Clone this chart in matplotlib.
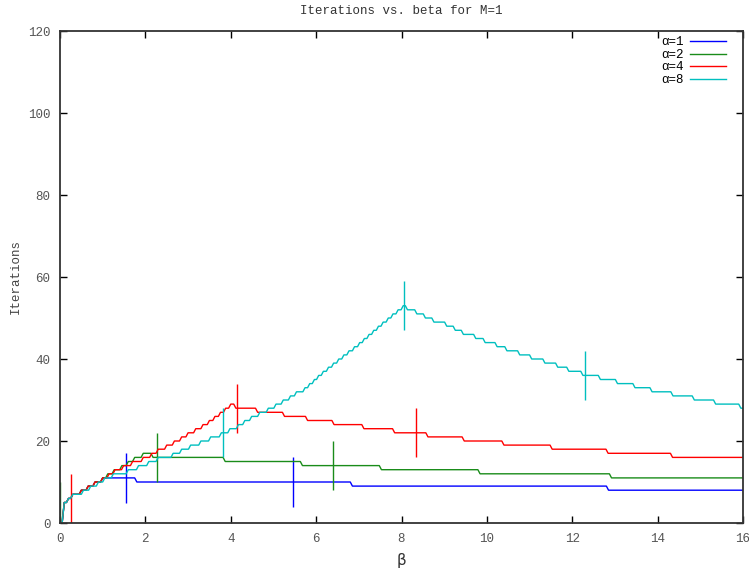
import matplotlib.pyplot as plt

# beta where each iteration level starts, and the level
beta_a1 = [0, 0.1, 0.2, 0.3, 0.5, 0.66, 0.82, 1.0, 1.8, 6.85, 12.85, 16]
iter_a1 = [0, 5, 6, 7, 8, 9, 10, 11, 10, 9, 8, 8]

beta_a2 = [0, 0.1, 0.2, 0.3, 0.5, 0.66, 0.82, 1.0, 1.12, 1.27, 1.45, 1.6,
           1.75, 1.95, 2.18, 3.87, 5.68, 7.53, 9.84, 12.92, 16]
iter_a2 = [0, 5, 6, 7, 8, 9, 10, 11, 12, 13, 14, 15,
           16, 17, 16, 15, 14, 13, 12, 11, 11]

beta_a4 = [0, 0.1, 0.2, 0.3, 0.5, 0.66, 0.82, 1.0, 1.15, 1.29, 1.49, 1.7,
           1.95, 2.15, 2.3, 2.5, 2.68, 2.85, 3.0, 3.18, 3.35, 3.5, 3.63,
           3.76, 3.88, 4.0, 4.12, 4.63, 5.26, 5.8, 6.42, 7.12, 7.84, 8.62,
           9.47, 10.4, 11.53, 12.84, 14.35, 16]
iter_a4 = [0, 5, 6, 7, 8, 9, 10, 11, 12, 13, 14, 15,
           16, 17, 18, 19, 20, 21, 22, 23, 24, 25, 26,
           27, 28, 29, 28, 27, 26, 25, 24, 23, 22, 21,
           20, 19, 18, 17, 16, 16]

beta_a8 = [0, 0.1, 0.2, 0.3, 0.55, 0.72, 0.9, 1.05, 1.25, 1.6, 1.84, 2.08,
           2.3, 2.65, 2.85, 3.06, 3.3, 3.53, 3.78, 3.98, 4.18, 4.33, 4.49,
           4.68, 4.88, 5.06, 5.23, 5.4, 5.54, 5.74, 5.85, 5.96, 6.06, 6.17,
           6.29, 6.41, 6.53, 6.65, 6.77, 6.9, 7.02, 7.13, 7.24, 7.35, 7.46,
           7.57, 7.69, 7.8, 7.92, 8.04, 8.14, 8.36, 8.56, 8.76, 9.06, 9.26,
           9.45, 9.74, 9.96, 10.24, 10.47, 10.77, 11.05, 11.36, 11.66, 11.92,
           12.25, 12.66, 13.06, 13.47, 13.87, 14.36, 14.86, 15.36, 15.95, 16]
iter_a8 = [0, 5, 6, 7, 8, 9, 10, 11, 12, 13, 14, 15,
           16, 17, 18, 19, 20, 21, 22, 23, 24, 25, 26,
           27, 28, 29, 30, 31, 32, 33, 34, 35, 36, 37,
           38, 39, 40, 41, 42, 43, 44, 45, 46, 47, 48,
           49, 50, 51, 52, 53, 52, 51, 50, 49, 48, 47,
           46, 45, 44, 43, 42, 41, 40, 39, 38, 37,
           36, 35, 34, 33, 32, 31, 30, 29, 28, 28]

# error bars (position, centre), half-width err_size
err_a1_x = [1.55, 5.45]
err_a1_y = [11, 10]
err_a2_x = [0.0, 2.27, 6.4]
err_a2_y = [4, 16, 14]
err_a4_x = [0.25, 4.15, 8.34]
err_a4_y = [6, 28, 22]
err_a8_x = [3.83, 8.05, 12.31]
err_a8_y = [22, 53, 36]
err_size = 6

labels = ['α=1', 'α=2', 'α=4', 'α=8']
colors = ['#0000ff', '#1a8c1a', '#ff0000', '#00bfbf']

mono = 'Liberation Mono'


def slanted_steps(xs, ys, ramp=0.05):
    # each level change drawn as a short ramp, like the sampled original
    px, py = [xs[0]], [ys[0]]
    for i in range(1, len(xs)):
        if ys[i] != ys[i - 1]:
            x0 = max(xs[i] - ramp, px[-1])
            px += [x0, xs[i]]
            py += [ys[i - 1], ys[i]]
        else:
            px.append(xs[i])
            py.append(ys[i])
    return px, py


fig = plt.figure(figsize=(7.49, 5.71), dpi=100)
ax = fig.add_axes([60 / 749, 1 - 523 / 571, 683 / 749, 492 / 571])

curves = [(beta_a1, iter_a1, err_a1_x, err_a1_y),
          (beta_a2, iter_a2, err_a2_x, err_a2_y),
          (beta_a4, iter_a4, err_a4_x, err_a4_y),
          (beta_a8, iter_a8, err_a8_x, err_a8_y)]

for (bx, it, ex, ey), lab, c in zip(curves, labels, colors):
    sx, sy = slanted_steps(bx, it)
    ax.plot(sx, sy, color=c, lw=1.0, label=lab)
    ax.errorbar(ex, ey, yerr=err_size, fmt='none', ecolor=c,
                elinewidth=1.0, capsize=0)

ax.set_xlim(0, 16)
ax.set_ylim(0, 120)
ax.set_xticks(range(0, 17, 2))
ax.set_yticks(range(0, 121, 20))
ax.tick_params(direction='in', length=5, width=1, top=True, right=True,
               labelsize=9, labelcolor='#555555', pad=7)
for lbl in ax.get_xticklabels() + ax.get_yticklabels():
    lbl.set_family(mono)
for s in ax.spines.values():
    s.set_linewidth(1.3)
    s.set_color('#333333')

ax.set_title('Iterations vs. beta for M=1', family=mono, fontsize=9,
             color='#333333', pad=12)
ax.set_ylabel('Iterations', family=mono, fontsize=9, color='#444444',
              labelpad=4)
ax.set_xlabel('β', fontsize=11, color='#333333', labelpad=6)

ax.legend(loc='upper right', frameon=False, markerfirst=False,
          prop={'family': mono, 'size': 9}, handlelength=2.9,
          labelspacing=0.05, handletextpad=0.5,
          bbox_to_anchor=(737 / 749, 1 - 25 / 571),
          bbox_transform=fig.transFigure)

fig.savefig('out.png', dpi=100)
